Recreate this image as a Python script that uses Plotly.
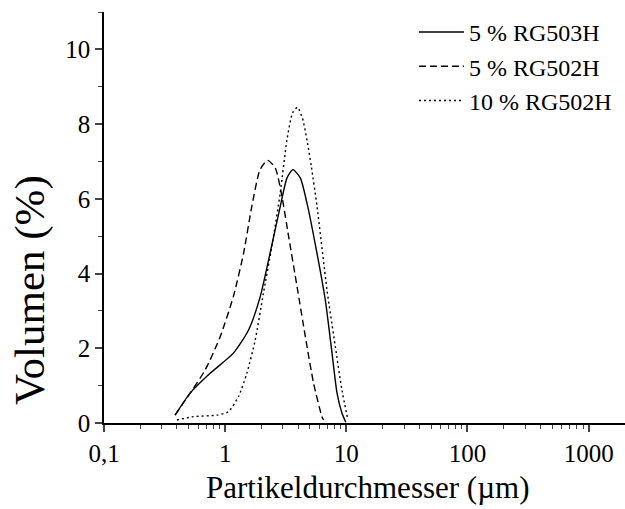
import plotly.graph_objects as go

# Partikelgrößenverteilung, Werte
d_503 = [0.386, 0.514, 0.751, 1.17, 1.56, 1.95, 2.35, 2.85, 3.24, 3.62, 4.17, 4.73, 5.72, 6.70, 7.62, 8.38, 9.21, 9.9]
v_503 = [0.21, 0.80, 1.33, 1.87, 2.49, 3.39, 4.55, 5.80, 6.56, 6.78, 6.56, 5.89, 4.55, 3.30, 1.87, 0.80, 0.26, 0.02]

d_502 = [0.386, 0.514, 0.684, 0.910, 1.17, 1.42, 1.66, 1.94, 2.24, 2.59, 2.94, 3.34, 3.92, 4.59, 5.37, 6.29, 6.5]
v_502 = [0.21, 0.80, 1.42, 2.31, 3.39, 4.55, 5.80, 6.78, 7.03, 6.83, 6.07, 4.99, 3.65, 2.31, 1.06, 0.17, 0.08]

d_10 = [0.40, 0.547, 0.853, 1.06, 1.29, 1.51, 1.77, 2.07, 2.43, 2.85, 3.24, 3.6, 3.95, 4.35, 4.75, 5.15, 5.73, 6.92, 8.11, 9.2, 10.3]
v_10 = [0.08, 0.17, 0.21, 0.30, 0.71, 1.33, 2.22, 3.48, 4.73, 6.16, 7.59, 8.30, 8.45, 8.15, 7.55, 6.85, 5.80, 3.57, 2.05, 0.88, 0.08]

x_ticks = [0.1, 1, 10, 100, 1000]
x_labels = ["0,1", "1", "10", "100", "1000"]
x_minor = [m * 10 ** e for e in range(-1, 4) for m in range(2, 10)]

serif = "Liberation Serif"

# Kurven
series = [
    (d_503, v_503, "5 % RG503H", "solid"),
    (d_502, v_502, "5 % RG502H", "7px,4px"),
    (d_10, v_10, "10 % RG502H", "2px,3px"),
]

fig = go.Figure()
for d, v, name, dash in series:
    fig.add_trace(go.Scatter(
        x=d, y=v, name=name, mode="lines",
        line=dict(color="black", width=1.4, dash=dash, shape="spline", smoothing=0.6),
    ))

fig.update_layout(
    width=625, height=509,
    margin=dict(l=104, r=0, t=12, b=86),
    plot_bgcolor="white", paper_bgcolor="white",
    font=dict(family=serif, color="black", size=25),
    showlegend=True,
    legend=dict(
        x=0.595, y=1.005, xanchor="left", yanchor="top",
        font=dict(family=serif, size=24),
        bgcolor="rgba(0,0,0,0)", tracegroupgap=0, itemwidth=45,
    ),
    xaxis=dict(
        type="log", range=[-1, 3.3], automargin=False,
        tickvals=x_ticks, ticktext=x_labels,
        ticks="outside", ticklen=7, tickwidth=1.5,
        minor=dict(tickvals=x_minor, ticks="outside", ticklen=4, tickwidth=1.2),
        showline=True, linecolor="black", linewidth=1.5,
        showgrid=False, zeroline=False,
    ),
    yaxis=dict(
        range=[0, 11], dtick=2, tick0=0, automargin=False,
        ticks="outside", ticklen=7, tickwidth=1.5,
        minor=dict(dtick=1, ticks="outside", ticklen=4, tickwidth=1.2),
        showline=True, linecolor="black", linewidth=1.5,
        showgrid=False, zeroline=False,
    ),
    # Achsentitel als Annotationen, damit die Position exakt passt
    annotations=[
        dict(text="Partikeldurchmesser (µm)", xref="paper", yref="paper",
             x=(367 - 104) / 521, y=-(488 - 423) / 411, showarrow=False,
             xanchor="center", yanchor="middle", font=dict(size=31)),
        dict(text="Volumen (%)", xref="paper", yref="paper",
             x=-(104 - 30) / 521, y=(423 - 290) / 411, showarrow=False,
             xanchor="center", yanchor="middle", textangle=-90, font=dict(size=43)),
    ],
)

fig.write_html("out.html", config={"displayModeBar": False},
               post_script="document.body.style.margin='0';")
